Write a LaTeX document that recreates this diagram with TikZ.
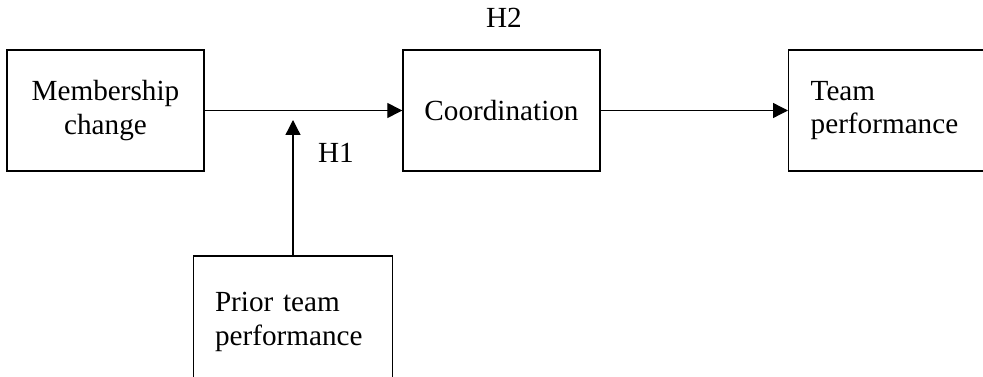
\documentclass[tikz,border=0pt]{standalone}
\usepackage{fontspec}
\setmainfont{Liberation Serif}
\usetikzlibrary{arrows.meta}
\begin{document}
\begin{tikzpicture}[x=1pt,y=-1pt,
  every node/.style={font=\fontsize{29.2}{33.5}\selectfont},
  boxc/.style={draw,line width=1.4pt,inner sep=0pt,minimum width=197pt,minimum height=121pt,align=center},
  boxl/.style={draw,line width=1.4pt,inner ysep=0pt,inner xsep=21.5pt,text width=154pt,minimum height=121pt,align=left},
  conn/.style={line width=1.3pt,-{Triangle[length=15pt,width=15pt]}},
  lbl/.style={inner sep=0pt,anchor=base}]
\useasboundingbox (0,0) rectangle (983,377);
\clip (0,0) rectangle (983,377);
\node[boxc] (mem) at (105.5,110.5) {Membership\\change};
\node[boxc] (coord) at (501.5,110.5) {Coordination};
\node[boxl,anchor=west,text width=190pt,inner xsep=22pt] (team) at (788,110.5) {Team\\performance};
\node[boxl,minimum width=198pt,text width=156pt,minimum height=132pt] (prior) at (293,322) {Prior team\\performance};
\coordinate (h1tip) at (293,120);
\draw[conn] (mem.east) -- (coord.west);
\draw[conn] (coord.east) -- (team.west);
\draw[conn] (prior.north) -- (h1tip);
\node[lbl] (h2) at (504,28) {H2};
\node[lbl] (h1) at (336,163) {H1};
\end{tikzpicture}
\end{document}
